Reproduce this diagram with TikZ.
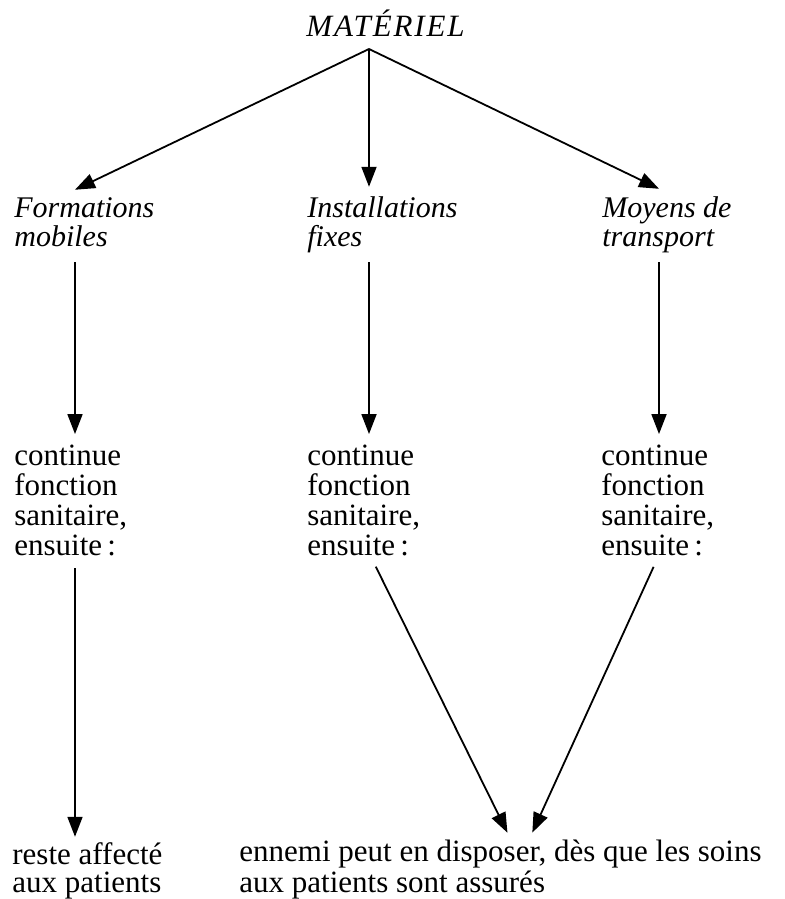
\documentclass[tikz,border=0pt]{standalone}
\usepackage{fontspec}
\setmainfont{Liberation Serif}
\usetikzlibrary{arrows.meta,calc}

\tikzset{
  txt/.style={inner sep=0pt, anchor=base west, align=left, font=\fontsize{15.5}{15}\selectfont},
  head/.style={txt, font=\fontsize{15}{14.5}\selectfont\itshape},
  arr/.style={-{Triangle[length=10pt,width=7.5pt]}, line width=0.9pt}
}

\begin{document}
\begin{tikzpicture}[x=0.5pt,y=-0.5pt]
\useasboundingbox (0,0) rectangle (785,899);
% columns
\coordinate (c1) at (75,0);
\coordinate (c2) at (370,0);
\coordinate (c3) at (659,0);
\coordinate (m1) at (511,0);
\coordinate (m2) at (529,0);

\node [head, font=\fontsize{15.5}{15}\selectfont\itshape\addfontfeature{LetterSpace=6}] (mat) at (306,37) {MATÉRIEL};
\coordinate (apex) at (369,49);

% last line on the given baseline
\node [head] (fm) at (14,246) {Formations\\mobiles};
\node [head] (fi) at (307,246) {Installations\\fixes};
\node [head] (mt) at (602,246) {Moyens de\\transport};

\node [txt] (cf1) at (14,555) {continue\\fonction\\sanitaire,\\ensuite\,:};
\node [txt] (cf2) at (307,555) {continue\\fonction\\sanitaire,\\ensuite\,:};
\node [txt] (cf3) at (601,555) {continue\\fonction\\sanitaire,\\ensuite\,:};

\node [txt, font=\fontsize{15.5}{14}\selectfont] (pat) at (12,892) {reste affecté\\aux patients};
\node [txt, font=\fontsize{15.5}{14}\selectfont] (enn) at (239,892) {ennemi peut en disposer, dès que les soins\\aux patients sont assurés};

\draw [arr] (apex) -- ($(fm.north -| c1)+(0,-7)$);
\draw [arr, shorten >=4.5pt] (apex) -- (fi.north -| apex);
\draw [arr] (apex) -- ($(mt.north -| c3)+(0,-7)$);

\draw [arr, shorten <=8pt, shorten >=5pt] (fm.base -| c1) -- (cf1.north -| c1);
\draw [arr, shorten <=8pt, shorten >=5pt] (fi.base -| apex) -- (cf2.north -| apex);
\draw [arr, shorten <=8pt, shorten >=5pt] (mt.base -| c3) -- (cf3.north -| c3);

\draw [arr, shorten <=6.5pt, shorten >=2.5pt] (cf1.base -| c1) -- (pat.north -| c1);
\draw [arr, shorten <=6.5pt, shorten >=4pt] (cf2.base -| c2) -- (enn.north -| m1);
\draw [arr, shorten <=6.5pt, shorten >=4pt] (cf3.base -| c3) -- (enn.north -| m2);
\end{tikzpicture}
\end{document}
